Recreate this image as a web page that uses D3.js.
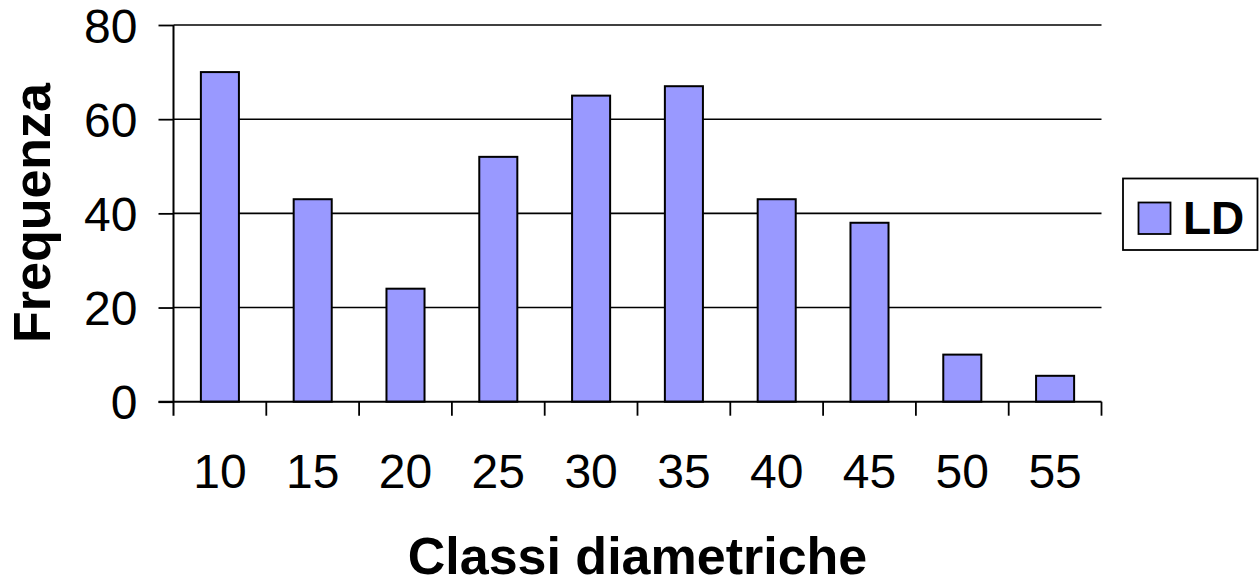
<!DOCTYPE html>
<html>
<head>
<meta charset="utf-8">
<script src="https://cdn.jsdelivr.net/npm/d3@7"></script>
<style>
  html, body { margin: 0; padding: 0; background: #fff; }
  svg { display: block; }
  text { font-family: "Liberation Sans", Arial, sans-serif; fill: #000; }
</style>
</head>
<body>
<svg id="chart" width="1260" height="586"></svg>
<script>
const categories = ["10", "15", "20", "25", "30", "35", "40", "45", "50", "55"];
const values = [70, 43, 24, 52, 65, 67, 43, 38, 10, 5.5];
const yTicks = [0, 20, 40, 60, 80];
const seriesName = "LD";
const xTitle = "Classi diametriche";
const yTitle = "Frequenza";

const svg = d3.select("#chart");
const pLeft = 173.5, pRight = 1101.5, pTop = 25, pBottom = 401.7;

const x = d3.scaleBand().domain(categories).range([pLeft, pRight]).paddingInner(0.59).paddingOuter(0.295);
const y = d3.scaleLinear().domain([0, 80]).range([pBottom, pTop]);

// gridlines
svg.append("g").selectAll("line").data(yTicks.filter(d => d > 0)).join("line")
  .attr("x1", pLeft).attr("x2", pRight)
  .attr("y1", d => y(d)).attr("y2", d => y(d))
  .attr("stroke", "#000").attr("stroke-width", 1.6);

// bars
svg.append("g").selectAll("rect").data(categories).join("rect")
  .attr("x", d => x(d))
  .attr("width", x.bandwidth())
  .attr("y", (d, i) => y(values[i]))
  .attr("height", (d, i) => y(0) - y(values[i]))
  .attr("fill", "#9999FF").attr("stroke", "#000").attr("stroke-width", 2);

// y axis
const yAxis = svg.append("g").attr("transform", `translate(${pLeft},0)`)
  .call(d3.axisLeft(y).tickValues(yTicks).tickSize(15).tickPadding(21).tickSizeOuter(0));
yAxis.select(".domain").attr("stroke-width", 2).attr("d", `M0,${pTop}V${pBottom + 14}`);
yAxis.selectAll(".tick line").attr("stroke-width", 1.8);
yAxis.selectAll(".tick text").style("font-size", "48px").attr("dy", "0.36em");

// x axis
const xb = d3.scaleLinear().domain([0, categories.length]).range([pLeft, pRight]);
const xg = svg.append("g").attr("transform", `translate(0,${pBottom})`);
xg.append("line").attr("x1", pLeft - 15).attr("x2", pRight).attr("y1", 0).attr("y2", 0)
  .attr("stroke", "#000").attr("stroke-width", 2);
xg.selectAll("line.t").data(d3.range(1, categories.length + 1)).join("line").attr("class", "t")
  .attr("x1", d => xb(d)).attr("x2", d => xb(d)).attr("y1", 0).attr("y2", 14)
  .attr("stroke", "#000").attr("stroke-width", 1.8);
xg.selectAll("text").data(categories).join("text")
  .attr("x", d => x(d) + x.bandwidth() / 2).attr("y", 86)
  .attr("text-anchor", "middle").style("font-size", "48px").text(d => d);

// axis titles
svg.append("text").attr("x", (pLeft + pRight) / 2).attr("y", 574)
  .attr("text-anchor", "middle").style("font-size", "52px").style("font-weight", "bold").text(xTitle);
svg.append("text").attr("transform", "translate(50,213) rotate(-90)")
  .attr("text-anchor", "middle").style("font-size", "52px").style("font-weight", "bold").text(yTitle);

// legend
const lg = svg.append("g");
lg.append("rect").attr("x", 1123).attr("y", 178.5).attr("width", 134.5).attr("height", 71.5)
  .attr("fill", "#fff").attr("stroke", "#000").attr("stroke-width", 1.8);
lg.append("rect").attr("x", 1138.5).attr("y", 202.5).attr("width", 32).attr("height", 31.5)
  .attr("fill", "#9999FF").attr("stroke", "#000").attr("stroke-width", 1.8);
lg.append("text").attr("x", 1183).attr("y", 234).style("font-size", "46px").style("font-weight", "bold").text(seriesName);
</script>
</body>
</html>
